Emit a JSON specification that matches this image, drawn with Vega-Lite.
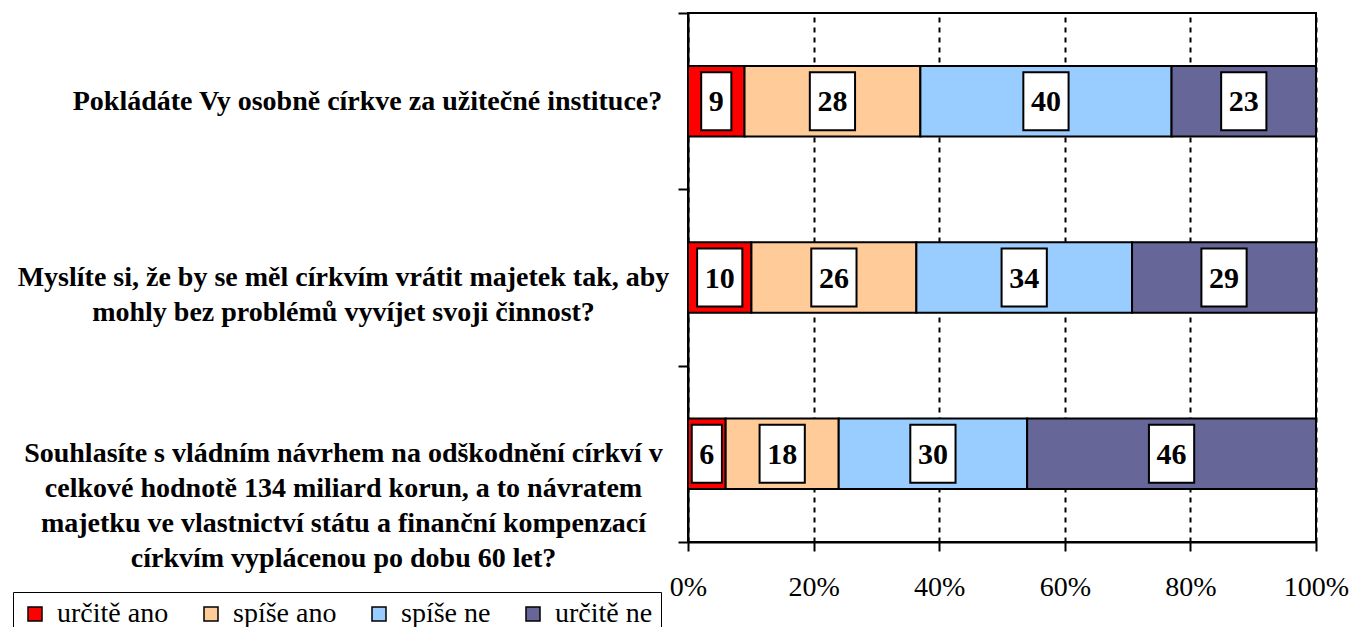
{
  "$schema": "https://vega.github.io/schema/vega-lite/v6.json",
  "width": 628,
  "height": 529,
  "autosize": {"type": "none"},
  "padding": {"left": 688, "top": 13, "right": 37, "bottom": 85},
  "background": "white",
  "config": {
    "font": "Times New Roman, Liberation Serif, serif",
    "view": {"stroke": "black", "strokeWidth": 2}
  },
  "data": {
    "values": [
      {"q": "Pokládáte Vy osobně církve za užitečné instituce?", "answer": "určitě ano", "o": 1, "v": 9},
      {"q": "Pokládáte Vy osobně církve za užitečné instituce?", "answer": "spíše ano", "o": 2, "v": 28},
      {"q": "Pokládáte Vy osobně církve za užitečné instituce?", "answer": "spíše ne", "o": 3, "v": 40},
      {"q": "Pokládáte Vy osobně církve za užitečné instituce?", "answer": "určitě ne", "o": 4, "v": 23},
      {"q": "Myslíte si, že by se měl církvím vrátit majetek tak, aby|mohly bez problémů vyvíjet svoji činnost?", "answer": "určitě ano", "o": 1, "v": 10},
      {"q": "Myslíte si, že by se měl církvím vrátit majetek tak, aby|mohly bez problémů vyvíjet svoji činnost?", "answer": "spíše ano", "o": 2, "v": 26},
      {"q": "Myslíte si, že by se měl církvím vrátit majetek tak, aby|mohly bez problémů vyvíjet svoji činnost?", "answer": "spíše ne", "o": 3, "v": 34},
      {"q": "Myslíte si, že by se měl církvím vrátit majetek tak, aby|mohly bez problémů vyvíjet svoji činnost?", "answer": "určitě ne", "o": 4, "v": 29},
      {"q": "Souhlasíte s vládním návrhem na odškodnění církví v|celkové hodnotě 134 miliard korun, a to návratem|majetku ve vlastnictví státu a finanční kompenzací|církvím vyplácenou po dobu 60 let?", "answer": "určitě ano", "o": 1, "v": 6},
      {"q": "Souhlasíte s vládním návrhem na odškodnění církví v|celkové hodnotě 134 miliard korun, a to návratem|majetku ve vlastnictví státu a finanční kompenzací|církvím vyplácenou po dobu 60 let?", "answer": "spíše ano", "o": 2, "v": 18},
      {"q": "Souhlasíte s vládním návrhem na odškodnění církví v|celkové hodnotě 134 miliard korun, a to návratem|majetku ve vlastnictví státu a finanční kompenzací|církvím vyplácenou po dobu 60 let?", "answer": "spíše ne", "o": 3, "v": 30},
      {"q": "Souhlasíte s vládním návrhem na odškodnění církví v|celkové hodnotě 134 miliard korun, a to návratem|majetku ve vlastnictví státu a finanční kompenzací|církvím vyplácenou po dobu 60 let?", "answer": "určitě ne", "o": 4, "v": 46}
    ]
  },
  "encoding": {
    "y": {
      "field": "q",
      "type": "nominal",
      "sort": null,
      "scale": {"paddingInner": 0, "paddingOuter": 0},
      "axis": {
        "title": null,
        "tickBand": "extent",
        "domainColor": "black",
        "domainWidth": 2,
        "tickColor": "black",
        "tickWidth": 2,
        "tickSize": 10,
        "labelExpr": "split(datum.label, '|')",
        "labelFont": "Times New Roman, Liberation Serif, serif",
        "labelFontWeight": "bold",
        "labelFontSize": 28,
        "labelLineHeight": 35,
        "labelColor": "black",
        "labelAlign": "center",
        "labelBaseline": "middle",
        "labelPadding": {"condition": {"test": "indexof(datum.label, '|') < 0", "value": 311}, "value": 335},
        "labelLimit": 1000
      }
    },
    "order": {"field": "o", "type": "quantitative"}
  },
  "layer": [
    {
      "mark": {"type": "bar", "stroke": "black", "strokeWidth": 2, "height": {"band": 0.4}},
      "encoding": {
        "x": {
          "field": "v",
          "type": "quantitative",
          "stack": "normalize",
          "scale": {"domain": [0, 1], "nice": false},
          "axis": {
            "title": null,
            "format": ".0%",
            "values": [0, 0.2, 0.4, 0.6, 0.8, 1],
            "grid": true,
            "gridColor": "black",
            "gridWidth": 2,
            "gridDash": [5, 5],
            "gridOpacity": 1,
            "domainColor": "black",
            "domainWidth": 2,
            "tickColor": "black",
            "tickWidth": 2,
            "tickSize": 9,
            "labelFlush": false,
            "labelFont": "Times New Roman, Liberation Serif, serif",
            "labelFontSize": 28,
            "labelColor": "black",
            "labelPadding": 22
          }
        },
        "color": {
          "field": "answer",
          "type": "nominal",
          "sort": ["určitě ano", "spíše ano", "spíše ne", "určitě ne"],
          "scale": {
            "domain": ["určitě ano", "spíše ano", "spíše ne", "určitě ne"],
            "range": ["#FF0000", "#FFCC99", "#99CCFF", "#666699"]
          },
          "legend": {
            "title": null,
            "orient": "none",
            "legendX": -675,
            "legendY": 579,
            "direction": "horizontal",
            "columnPadding": 28,
            "strokeColor": "black",
            "padding": 8,
            "fillColor": "white",
            "symbolType": "square",
            "symbolSize": 196,
            "symbolStrokeColor": "black",
            "symbolStrokeWidth": 1.5,
            "symbolOpacity": 1,
            "labelFont": "Times New Roman, Liberation Serif, serif",
            "labelFontSize": 28,
            "labelColor": "black",
            "labelOffset": 8,
            "labelLimit": 300
          }
        }
      }
    },
    {
      "mark": {"type": "point", "filled": true, "fill": "white", "stroke": "black", "strokeWidth": 2, "opacity": 1, "size": 3364},
      "encoding": {
        "x": {"field": "v", "type": "quantitative", "stack": "normalize", "bandPosition": 0.5},
        "shape": {
          "condition": {"test": "datum.v < 10", "value": "M-0.52,-1H0.52V1H-0.52Z"},
          "value": "M-0.78,-1H0.78V1H-0.78Z"
        }
      }
    },
    {
      "mark": {"type": "text", "font": "Times New Roman, Liberation Serif, serif", "fontWeight": "bold", "fontSize": 30, "color": "black", "baseline": "middle", "dy": 1},
      "encoding": {
        "x": {"field": "v", "type": "quantitative", "stack": "normalize", "bandPosition": 0.5},
        "text": {"field": "v", "type": "quantitative"}
      }
    }
  ]
}
